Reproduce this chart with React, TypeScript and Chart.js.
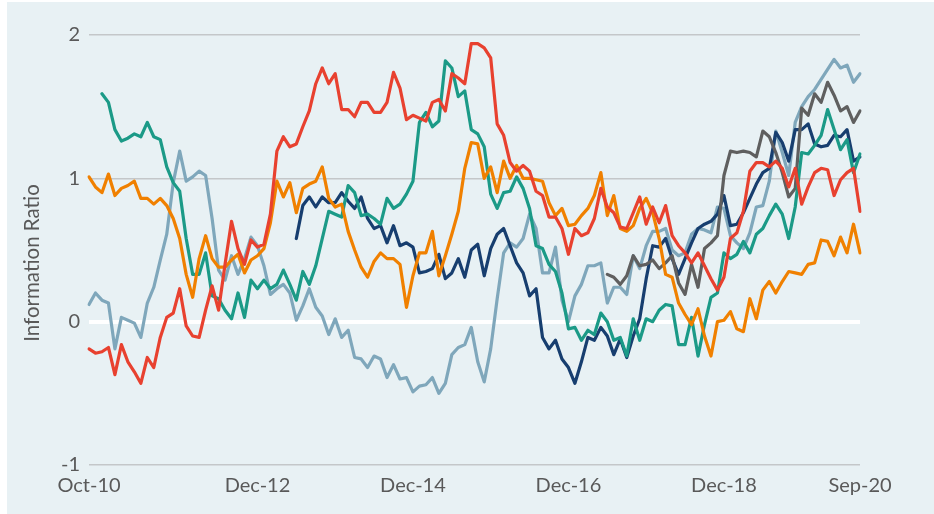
import React, { useEffect, useRef } from "react";
import { Chart, registerables } from "chart.js";

Chart.register(...registerables);

// Monthly categories Oct-10 .. Sep-20
const MONTH_NAMES = ["Jan", "Feb", "Mar", "Apr", "May", "Jun", "Jul", "Aug", "Sep", "Oct", "Nov", "Dec"];
const START_YEAR = 2010;
const START_MONTH = 9; // October (0-based)
const N_MONTHS = 120;
const categories: string[] = [];
for (let k = 0; k < N_MONTHS; k++) {
  const m = (START_MONTH + k) % 12;
  const y = START_YEAR + Math.floor((START_MONTH + k) / 12);
  categories.push(`${MONTH_NAMES[m]}-${String(y % 100).padStart(2, "0")}`);
}

const tickLabels = ["Oct-10", "Dec-12", "Dec-14", "Dec-16", "Dec-18", "Sep-20"];
const yTicks = [-1, 0, 1, 2];

const teal = [
  null, null, 1.59, 1.53, 1.34, 1.26, 1.28, 1.31, 1.29, 1.39,
  1.29, 1.27, 1.08, 0.97, 0.91, 0.58, 0.33, 0.33, 0.48, 0.18,
  0.16, 0.08, 0.02, 0.2, 0.03, 0.29, 0.23, 0.29, 0.23, 0.26,
  0.36, 0.26, 0.15, 0.35, 0.26, 0.39, 0.58, 0.77, 0.75, 0.73,
  0.95, 0.9, 0.74, 0.75, 0.72, 0.68, 0.86, 0.79, 0.82, 0.89,
  0.98, 1.39, 1.46, 1.36, 1.4, 1.82, 1.77, 1.57, 1.61, 1.34,
  1.31, 1.22, 0.89, 0.79, 0.9, 0.91, 1.01, 0.93, 0.79, 0.53,
  0.51, 0.4, 0.35, 0.2, -0.05, -0.04, -0.13, -0.06, -0.09, 0.06,
  0.0, -0.13, -0.11, -0.24, 0.02, -0.13, 0.02, 0.0, 0.08, 0.12,
  0.11, -0.16, -0.16, 0.03, -0.24, -0.02, 0.17, 0.2, 0.48, 0.44,
  0.47, 0.56, 0.48, 0.61, 0.65, 0.74, 0.82, 0.75, 0.58, 0.8,
  1.18, 1.17, 1.23, 1.3, 1.48, 1.34, 1.2, 1.27, 1.04, 1.17,
];

const orange = [
  1.01, 0.94, 0.9, 1.03, 0.88, 0.93, 0.95, 0.98, 0.86, 0.86,
  0.82, 0.86, 0.81, 0.72, 0.58, 0.33, 0.17, 0.44, 0.6, 0.44,
  0.38, 0.38, 0.43, 0.47, 0.34, 0.43, 0.46, 0.51, 0.69, 0.98,
  0.87, 0.97, 0.76, 0.93, 0.96, 0.98, 1.08, 0.86, 0.8, 0.82,
  0.63, 0.5, 0.38, 0.31, 0.42, 0.48, 0.44, 0.44, 0.4, 0.1,
  0.32, 0.48, 0.48, 0.63, 0.32, 0.46, 0.61, 0.77, 1.07, 1.25,
  1.24, 1.0, 1.08, 0.9, 1.12, 1.0, 1.09, 1.0, 1.0, 0.99,
  0.98, 0.83, 0.74, 0.79, 0.67, 0.68, 0.74, 0.79, 0.88, 1.04,
  0.74, 0.88, 0.65, 0.63, 0.67, 0.79, 0.86, 0.76, 0.58, 0.33,
  0.31, 0.13, 0.05, -0.02, 0.09, -0.1, -0.24, 0.0, 0.01, 0.07,
  -0.05, -0.07, 0.16, 0.02, 0.22, 0.28, 0.2, 0.28, 0.35, 0.34,
  0.33, 0.4, 0.41, 0.57, 0.56, 0.46, 0.59, 0.48, 0.68, 0.48,
];

const red = [
  -0.19, -0.22, -0.21, -0.18, -0.37, -0.16, -0.28, -0.35, -0.43, -0.25,
  -0.32, -0.11, 0.03, 0.06, 0.23, -0.03, -0.1, -0.11, 0.08, 0.25,
  0.08, 0.4, 0.7, 0.51, 0.4, 0.57, 0.52, 0.54, 0.75, 1.19,
  1.29, 1.22, 1.24, 1.36, 1.47, 1.66, 1.77, 1.66, 1.73, 1.48,
  1.48, 1.43, 1.53, 1.53, 1.46, 1.46, 1.53, 1.74, 1.63, 1.41,
  1.44, 1.42, 1.4, 1.53, 1.55, 1.47, 1.73, 1.7, 1.66, 1.94,
  1.94, 1.91, 1.84, 1.38, 1.3, 1.11, 1.05, 1.09, 1.05, 0.91,
  0.88, 0.73, 0.73, 0.65, 0.47, 0.65, 0.6, 0.62, 0.72, 0.93,
  0.8, 0.76, 0.66, 0.65, 0.76, 0.87, 0.68, 0.8, 0.69, 0.81,
  0.6, 0.53, 0.48, 0.41, 0.48, 0.39, 0.3, 0.22, 0.31, 0.58,
  0.62, 0.77, 1.05, 1.11, 1.11, 1.08, 1.12, 1.07, 0.94, 1.07,
  0.82, 0.94, 1.04, 1.07, 1.06, 0.88, 0.99, 1.04, 1.07, 0.77,
];

const lightBlue = [
  0.12, 0.2, 0.15, 0.13, -0.19, 0.03, 0.01, -0.01, -0.11, 0.13,
  0.24, 0.43, 0.61, 0.97, 1.19, 0.98, 1.01, 1.05, 1.02, 0.72,
  0.36, 0.29, 0.46, 0.33, 0.44, 0.59, 0.53, 0.39, 0.19, 0.23,
  0.26, 0.2, 0.01, 0.11, 0.23, 0.1, 0.04, -0.09, 0.02, -0.11,
  -0.06, -0.25, -0.26, -0.32, -0.24, -0.26, -0.39, -0.3, -0.4, -0.39,
  -0.49, -0.45, -0.44, -0.39, -0.5, -0.43, -0.23, -0.18, -0.16, -0.04,
  -0.28, -0.42, -0.19, 0.16, 0.48, 0.55, 0.52, 0.58, 0.75, 0.65,
  0.34, 0.34, 0.52, 0.15, 0.0, 0.18, 0.26, 0.39, 0.39, 0.41,
  0.13, 0.24, 0.24, 0.19, 0.46, 0.37, 0.53, 0.63, 0.63, 0.65,
  0.5, 0.46, 0.48, 0.61, 0.65, 0.64, 0.62, 0.8, 0.79, 0.6,
  0.55, 0.51, 0.62, 0.8, 0.81, 0.98, 1.33, 1.18, 1.02, 1.39,
  1.5, 1.57, 1.62, 1.69, 1.76, 1.83, 1.77, 1.79, 1.67, 1.73,
];

const navy = [
  null, null, null, null, null, null, null, null, null, null,
  null, null, null, null, null, null, null, null, null, null,
  null, null, null, null, null, null, null, null, null, null,
  null, null, 0.58, 0.81, 0.87, 0.8, 0.87, 0.83, 0.83, 0.9,
  0.84, 0.79, 0.87, 0.72, 0.65, 0.67, 0.55, 0.67, 0.53, 0.55,
  0.52, 0.34, 0.35, 0.37, 0.47, 0.3, 0.34, 0.44, 0.31, 0.5,
  0.54, 0.32, 0.51, 0.61, 0.65, 0.53, 0.41, 0.34, 0.18, 0.23,
  -0.11, -0.19, -0.13, -0.26, -0.32, -0.43, -0.28, -0.11, -0.13, -0.04,
  -0.1, -0.23, -0.12, -0.25, -0.1, 0.02, 0.3, 0.53, 0.52, 0.58,
  0.44, 0.33, 0.44, 0.55, 0.65, 0.68, 0.7, 0.75, 0.88, 0.67,
  0.68, 0.76, 0.86, 0.96, 1.04, 1.07, 1.32, 1.25, 1.12, 1.34,
  1.34, 1.38, 1.24, 1.22, 1.23, 1.3, 1.29, 1.34, 1.12, 1.15,
];

const gray = [
  null, null, null, null, null, null, null, null, null, null,
  null, null, null, null, null, null, null, null, null, null,
  null, null, null, null, null, null, null, null, null, null,
  null, null, null, null, null, null, null, null, null, null,
  null, null, null, null, null, null, null, null, null, null,
  null, null, null, null, null, null, null, null, null, null,
  null, null, null, null, null, null, null, null, null, null,
  null, null, null, null, null, null, null, null, null, null,
  0.33, 0.31, 0.26, 0.32, 0.46, 0.39, 0.4, 0.43, 0.37, 0.41,
  0.46, 0.27, 0.19, 0.4, 0.24, 0.51, 0.55, 0.6, 1.02, 1.19,
  1.18, 1.19, 1.18, 1.15, 1.33, 1.29, 1.18, 1.04, 0.87, 0.93,
  1.49, 1.44, 1.59, 1.53, 1.67, 1.58, 1.47, 1.5, 1.39, 1.47,
];

const FONT = "Lato, 'Open Sans', sans-serif";
const TEXT_COLOR = "#595959";

export default function App() {
  const canvasRef = useRef<HTMLCanvasElement | null>(null);

  useEffect(() => {
    const canvas = canvasRef.current;
    if (!canvas) return;

    const titlePlugin = {
      id: "yTitle",
      afterDraw(chart: any) {
        const ctx = chart.ctx;
        ctx.save();
        ctx.translate(25, 261);
        ctx.rotate(-Math.PI / 2);
        ctx.font = `20.5px ${FONT}`;
        ctx.fillStyle = TEXT_COLOR;
        ctx.textAlign = "center";
        ctx.textBaseline = "middle";
        ctx.fillText("Information Ratio", 0, 0);
        ctx.restore();
      },
    };

    const mk = (label: string, data: (number | null)[], color: string, order: number) => ({
      label,
      data,
      borderColor: color,
      backgroundColor: color,
      borderWidth: 3.2,
      pointRadius: 0,
      pointHoverRadius: 0,
      tension: 0,
      spanGaps: false,
      borderJoinStyle: "round" as const,
      borderCapStyle: "round" as const,
      order,
    });

    const chart = new Chart(canvas, {
      type: "line",
      data: {
        labels: categories,
        datasets: [
          mk("Series 1", teal, "#1b9a87", 2),
          mk("Series 2", orange, "#f08000", 1),
          mk("Series 3", red, "#e8412f", 0),
          mk("Series 4", lightBlue, "#7fa7bb", 5),
          mk("Series 5", navy, "#173e6f", 4),
          mk("Series 6", gray, "#5f5f5f", 3),
        ],
      },
      options: {
        animation: false,
        responsive: false,
        maintainAspectRatio: false,
        layout: { padding: { left: 0, right: 74, top: 33, bottom: 0 } },
        plugins: {
          legend: { display: false },
          tooltip: { enabled: false },
          title: { display: false },
        },
        scales: {
          x: {
            type: "category",
            offset: false,
            grid: { display: false, drawTicks: false },
            border: { display: false },
            afterFit: (s: any) => {
              s.height = 49;
            },
            afterBuildTicks: (s: any) => {
              s.ticks = s.ticks.filter((t: any) => tickLabels.includes(categories[t.value]));
            },
            ticks: {
              autoSkip: false,
              maxRotation: 0,
              minRotation: 0,
              padding: 9,
              color: TEXT_COLOR,
              font: { family: FONT, size: 20 },
            },
          },
          y: {
            min: -1,
            max: 2,
            afterFit: (s: any) => {
              s.width = 82;
            },
            afterBuildTicks: (s: any) => {
              s.ticks = yTicks.map((v) => ({ value: v }));
            },
            grid: {
              drawTicks: false,
              color: (c: any) => (c.tick && c.tick.value === 0 ? "#ffffff" : "#c4c7c9"),
              lineWidth: (c: any) => (c.tick && c.tick.value === 0 ? 4 : 1.6),
            },
            border: { display: false },
            ticks: {
              stepSize: 1,
              padding: 9,
              color: TEXT_COLOR,
              font: { family: FONT, size: 20 },
            },
          },
        },
      },
      plugins: [titlePlugin],
    });

    return () => {
      chart.destroy();
    };
  }, []);

  return (
    <div style={{ position: "absolute", left: 0, top: 0, width: 934, height: 514, background: "#ffffff", overflow: "hidden" }}>
      <div style={{ position: "absolute", left: 7, top: 2, width: 927, height: 512, background: "#e8f1f4" }}>
        <canvas ref={canvasRef} width={927} height={512} style={{ display: "block", width: 927, height: 512 }} />
      </div>
    </div>
  );
}
